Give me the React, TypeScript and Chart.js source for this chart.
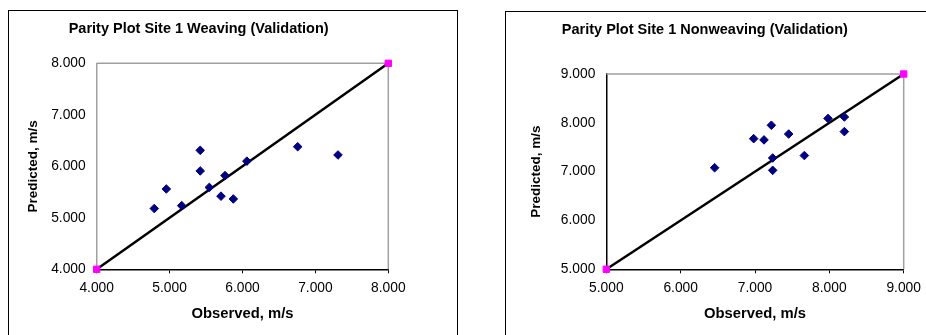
import React, { useEffect, useRef } from "react";
import { Chart, registerables } from "chart.js";

Chart.register(...registerables);

// ---- Data ----
const weavingTitle = "Parity Plot Site 1 Weaving (Validation)";
const weavingObserved = [4.79, 4.955, 5.166, 5.42, 5.42, 5.545, 5.705, 5.76, 5.874, 6.06, 6.757, 7.31];
const weavingPredicted = [5.18, 5.56, 5.236, 6.31, 5.91, 5.59, 5.42, 5.82, 5.366, 6.1, 6.38, 6.22];
const weavingRange = [4, 8];

const nonweavingTitle = "Parity Plot Site 1 Nonweaving (Validation)";
const nonweavingObserved = [6.457, 6.982, 7.121, 7.22, 7.238, 7.238, 7.453, 7.664, 7.982, 8.202, 8.202];
const nonweavingPredicted = [7.08, 7.676, 7.65, 7.95, 7.28, 7.027, 7.77, 7.33, 8.09, 8.12, 7.82];
const nonweavingRange = [5, 9];

const xAxisTitle = "Observed, m/s";
const yAxisTitle = "Predicted, m/s";

const FONT = "'Liberation Sans', Arial, sans-serif";

type Layout = {
  boxLeft: number;
  boxTop: number;
  boxWidth: number;
  boxHeight: number;
  areaLeft: number;
  areaRight: number;
  areaTop: number;
  areaBottom: number;
  yTitleX: number;
  titleY: number;
  yBorderColor: string;
};

const plotFrame = {
  id: "plotFrame",
  beforeDatasetsDraw(chart: any) {
    const { ctx, chartArea } = chart;
    ctx.save();
    ctx.strokeStyle = "#a0a0a0";
    ctx.lineWidth = 1.5;
    ctx.beginPath();
    ctx.moveTo(chartArea.left, chartArea.top);
    ctx.lineTo(chartArea.right, chartArea.top);
    ctx.lineTo(chartArea.right, chartArea.bottom);
    ctx.stroke();
    ctx.restore();
  },
};

function ParityChart(props: {
  title: string;
  xs: number[];
  ys: number[];
  range: number[];
  layout: Layout;
}) {
  const ref = useRef<HTMLCanvasElement | null>(null);
  const { layout: L } = props;
  const cw = L.boxWidth - 2;
  const ch = L.boxHeight - 2;

  useEffect(() => {
    if (!ref.current) return;
    const [lo, hi] = props.range;
    const xAxisH = 60;
    const titleFont = 14.5;
    const titleLH = titleFont * 1.2;
    const titlePadTop = L.titleY - titleLH / 2;
    const titlePadBottom = L.areaTop - titleLH - titlePadTop;
    const chart = new Chart(ref.current, {
      type: "scatter",
      data: {
        datasets: [
          {
            label: "Data",
            data: props.xs.map((x, i) => ({ x, y: props.ys[i] })),
            pointStyle: "rectRot",
            pointRadius: 4.3,
            pointBorderWidth: 1,
            backgroundColor: "#000080",
            borderColor: "#000080",
            clip: false as any,
          },
          {
            label: "Parity",
            data: [
              { x: lo, y: lo },
              { x: hi, y: hi },
            ],
            showLine: true,
            borderColor: "#000000",
            borderWidth: 2.5,
            pointStyle: "rect",
            pointRadius: 4.5,
            pointBorderWidth: 1,
            pointBackgroundColor: "#ff00ff",
            pointBorderColor: "#ff00ff",
            clip: false as any,
          },
        ],
      },
      options: {
        responsive: false,
        animation: false,
        devicePixelRatio: 1,
        layout: {
          padding: {
            left: 0,
            top: 0,
            right: cw - L.areaRight,
            bottom: ch - L.areaBottom - xAxisH,
          },
        },
        plugins: {
          legend: { display: false },
          tooltip: { enabled: false },
          title: {
            display: true,
            text: props.title,
            color: "#000",
            font: { family: FONT, size: titleFont, weight: "bold", lineHeight: 1.2 },
            padding: { top: titlePadTop, bottom: titlePadBottom },
          },
        },
        scales: {
          x: {
            type: "linear",
            min: lo,
            max: hi,
            afterFit: (s: any) => {
              s.height = xAxisH;
            },
            ticks: {
              stepSize: 1,
              color: "#000",
              padding: 6.5,
              font: { family: FONT, size: 13.8 },
              callback: (v: any) => Number(v).toFixed(3),
            },
            grid: {
              display: true,
              drawOnChartArea: false,
              drawTicks: true,
              tickLength: 4,
              color: "#000",
              lineWidth: 1,
            },
            border: { display: true, color: "#000", width: 1.5 },
            title: {
              display: true,
              text: xAxisTitle,
              color: "#000",
              font: { family: FONT, size: 14.8, weight: "bold", lineHeight: 1.2 },
              padding: { top: 0, bottom: 6.4 },
            },
          },
          y: {
            type: "linear",
            min: lo,
            max: hi,
            afterFit: (s: any) => {
              s.width = L.areaLeft;
            },
            ticks: {
              stepSize: 1,
              color: "#000",
              padding: 11,
              font: { family: FONT, size: 13.8 },
              callback: (v: any) => Number(v).toFixed(3),
            },
            grid: {
              display: true,
              drawOnChartArea: false,
              drawTicks: false,
            },
            border: { display: true, color: L.yBorderColor, width: 1.5 },
            title: {
              display: true,
              text: yAxisTitle,
              color: "#000",
              font: { family: FONT, size: 13.5, weight: "bold", lineHeight: 1.2 },
              padding: { top: L.yTitleX - 8.1, bottom: 0 },
            },
          },
        },
      },
      plugins: [plotFrame],
    } as any);
    return () => chart.destroy();
  }, []);

  return (
    <div
      style={{
        position: "absolute",
        left: L.boxLeft,
        top: L.boxTop,
        width: cw,
        height: ch,
        border: "1px solid #000",
        background: "#fff",
      }}
    >
      <canvas ref={ref} width={cw} height={ch} style={{ display: "block", width: cw, height: ch }} />
    </div>
  );
}

export default function App() {
  const left: Layout = {
    boxLeft: 8,
    boxTop: 10,
    boxWidth: 450,
    boxHeight: 340,
    areaLeft: 87.7,
    areaRight: 379.3,
    areaTop: 52.3,
    areaBottom: 258.3,
    yTitleX: 24,
    titleY: 18,
    yBorderColor: "#a0a0a0",
  };
  const right: Layout = {
    boxLeft: 505,
    boxTop: 11,
    boxWidth: 436,
    boxHeight: 340,
    areaLeft: 100.3,
    areaRight: 397.7,
    areaTop: 62,
    areaBottom: 257.3,
    yTitleX: 30,
    titleY: 18,
    yBorderColor: "#000",
  };
  return (
    <div
      style={{
        position: "absolute",
        left: 0,
        top: 0,
        width: 926,
        height: 335,
        overflow: "hidden",
        background: "#fff",
      }}
    >
      <ParityChart title={weavingTitle} xs={weavingObserved} ys={weavingPredicted} range={weavingRange} layout={left} />
      <ParityChart
        title={nonweavingTitle}
        xs={nonweavingObserved}
        ys={nonweavingPredicted}
        range={nonweavingRange}
        layout={right}
      />
    </div>
  );
}
